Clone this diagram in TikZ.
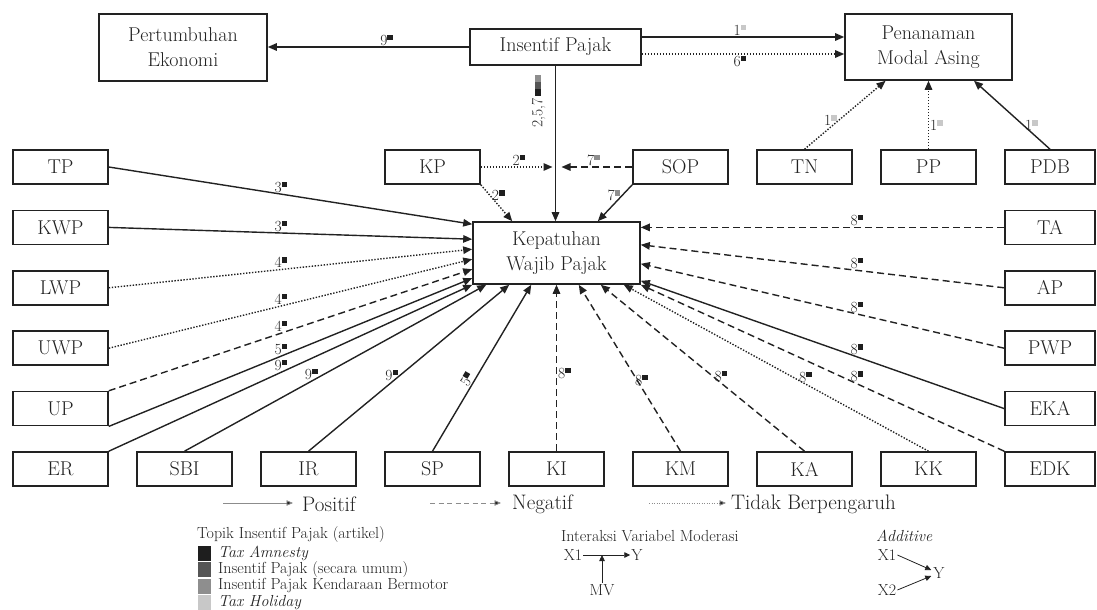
\documentclass[tikz,border=0pt]{standalone}
\usetikzlibrary{arrows.meta,calc}
\definecolor{tA}{HTML}{1E1E1E}
\definecolor{tU}{HTML}{555555}
\definecolor{tK}{HTML}{8E8E8E}
\definecolor{tH}{HTML}{C8C8C8}
\definecolor{ink}{HTML}{222222}
\newcommand{\Lb}[2]{#1\raisebox{5pt}{\textcolor{#2}{\rule{5.5pt}{5.5pt}}}}
\begin{document}
\begin{tikzpicture}[x=1pt,y=-1pt,
  bx/.style={draw=ink, line width=1.6pt, minimum width=95pt, minimum height=34pt, inner sep=0pt, text=ink, font=\fontsize{20}{25}\selectfont, align=center},
  bxr/.style={bx, minimum width=90pt},
  lsol/.style={draw=ink, line width=1.4pt, -{Triangle[length=9pt,width=7.5pt]}},
  ldash/.style={lsol, dash pattern=on 7pt off 4pt},
  ldot/.style={lsol, dash pattern=on 1.4pt off 1.6pt},
  lab/.style={font=\fontsize{15.5}{16}\selectfont, text=ink, inner sep=1pt},
  lleg/.style={draw=black!45, line width=0.9pt, -{Triangle[length=6.5pt,width=5.5pt,fill=ink]}},
  legt/.style={font=\fontsize{21}{24}\selectfont, text=ink, inner sep=0pt, anchor=west},
  smt/.style={font=\fontsize{16}{18}\selectfont, text=ink, inner sep=1pt},
  lthin/.style={draw=ink, line width=0.8pt, -{Triangle[length=6pt,width=5.5pt]}},
  sw/.style={minimum width=13pt, minimum height=15pt, inner sep=0pt}
]
\useasboundingbox (0,0) rectangle (1097,610);

% top nodes
\node[bx, minimum width=168pt, minimum height=67pt] (PE) at (183,47.5) {Pertumbuhan\\Ekonomi};
\node[bx, minimum width=171pt, minimum height=36pt] (IP) at (555.5,47) {Insentif Pajak};
\node[bx, minimum width=167pt, minimum height=66pt] (PMA) at (928.5,47) {Penanaman\\Modal Asing};
\node[bx, minimum width=167pt, minimum height=62pt] (kwp) at (556.5,253) {Kepatuhan\\Wajib Pajak};

% left column
\node[bx] (TP)  at (60.5,167)   {TP};
\node[bx] (KWP) at (60.5,227.4) {KWP};
\node[bx] (LWP) at (60.5,287.8) {LWP};
\node[bx] (UWP) at (60.5,348.2) {UWP};
\node[bx] (UP)  at (60.5,408.6) {UP};
% bottom row
\node[bx] (ER)  at (60.5,469)  {ER};
\node[bx] (SBI) at (184.5,469) {SBI};
\node[bx] (IR)  at (308.5,469) {IR};
\node[bx] (SP)  at (432.5,469) {SP};
\node[bx] (KI)  at (556.5,469) {KI};
\node[bx] (KM)  at (680.5,469) {KM};
\node[bx] (KA)  at (804.5,469) {KA};
\node[bx] (KK)  at (928.5,469) {KK};
\node[bxr] (EDK) at (1050,469) {EDK};
% right column
\node[bxr] (PDB) at (1050,167)   {PDB};
\node[bxr] (TA)  at (1050,227.4) {TA};
\node[bxr] (AP)  at (1050,287.8) {AP};
\node[bxr] (PWP) at (1050,348.2) {PWP};
\node[bxr] (EKA) at (1050,408.6) {EKA};
% top row
\node[bx] (KP)  at (432.5,167) {KP};
\node[bx] (SOP) at (680.5,167) {SOP};
\node[bx] (TN)  at (804.5,167) {TN};
\node[bx] (PP)  at (928.5,167) {PP};

% top connectors
\draw[lsol] (IP.west) -- (IP.west -| PE.east) node[lab,pos=.41,above]{\Lb{9}{tA}};
\draw[lsol] ($(IP.east)+(0,-10)$) -- ($(IP.east -| PMA.west)+(0,-10)$) node[lab,pos=.485,above]{\Lb{1}{tH}};
\draw[ldot] ($(IP.east)+(0,7)$) -- ($(IP.east -| PMA.west)+(0,7)$) node[lab,pos=.485,below]{\Lb{6}{tA}};
\draw[lsol] (IP.south) -- (IP.south |- kwp.north) coordinate[pos=.23] (m257);
\node[lab, rotate=90] (l257) at ($(m257)+(-17,0)$) {2,5,7\,\raisebox{1.5pt}{\textcolor{tA}{\rule{7pt}{6pt}}\textcolor{tU}{\rule{7pt}{6pt}}\textcolor{tK}{\rule{7pt}{6pt}}}};
\draw[ldot] (KP.east) -- ($(KP.east -| kwp.north)+(-4,0)$) node[lab,pos=.53,above]{\Lb{2}{tA}};
\draw[ldash] (SOP.west) -- ($(SOP.west -| kwp.north)+(5,0)$) node[lab,pos=.55,above]{\Lb{7}{tK}};
\draw[ldot] (KP.south east) -- ($(kwp.north west)+(40,0)$) node[lab,pos=.3,right]{\Lb{2}{tA}};
\draw[lsol] (SOP.south west) -- ($(kwp.north east)+(-43,0)$) node[lab,pos=.3,left]{\Lb{7}{tK}};
\draw[ldot] (TN.north) -- ($(PMA.south)+(-43,0)$) node[lab,pos=.42,left]{\Lb{1}{tH}};
\draw[ldot] (PP.north) -- (PP.north |- PMA.south) node[lab,pos=.35,right]{\Lb{1}{tH}};
\draw[lsol] (PDB.north) -- ($(PMA.south)+(45.5,0)$) node[lab,pos=.35,right]{\Lb{1}{tH}};

% left connectors
\draw[lsol] (TP.east) -- ($(kwp.north west)+(0,3)$) node[lab,pos=.474,above]{\Lb{3}{tA}};
\draw[lsol] (KWP.east) -- ($(kwp.north west)+(0,18)$) node[lab,pos=.474,above]{\Lb{3}{tA}};
\draw[ldot] (LWP.east) -- ($(kwp.north west)+(0,28)$) node[lab,pos=.474,above]{\Lb{4}{tA}};
\draw[ldot] (UWP.east) -- ($(kwp.north west)+(0,38)$) node[lab,pos=.474,above]{\Lb{4}{tA}};
\draw[ldash] (UP.north east) -- ($(kwp.north west)+(0,48)$) node[lab,pos=.474,above]{\Lb{4}{tA}};
\draw[lsol] (UP.south east) -- ($(kwp.north west)+(0,57)$) node[lab,pos=.474,above]{\Lb{5}{tA}};
\draw[lsol] (ER.north east) -- (kwp.south west) node[lab,pos=.474,above]{\Lb{9}{tA}};
\draw[lsol] (SBI.north) -- ($(kwp.south west)+(14,0)$) node[lab,pos=.42,above]{\Lb{9}{tA}};
\draw[lsol] (IR.north) -- ($(kwp.south west)+(37,0)$) node[lab,pos=.415,above]{\Lb{9}{tA}};
\draw[lsol] (SP.north) -- ($(kwp.south west)+(59,0)$) node[lab,pos=.41,above,sloped]{\Lb{5}{tA}};

% bottom / right connectors
\draw[ldash] (KI.north -| kwp.south) -- (kwp.south) node[lab,pos=.47,right]{\Lb{8}{tA}};
\draw[ldash] (KM.north) -- ($(kwp.south east)+(-62,0)$) node[lab,pos=.385,above]{\Lb{8}{tA}};
\draw[ldash] (KA.north) -- ($(kwp.south east)+(-40,0)$) node[lab,pos=.41,above]{\Lb{8}{tA}};
\draw[ldot] (KK.north) -- ($(kwp.south east)+(-17,0)$) node[lab,pos=.404,above]{\Lb{8}{tA}};
\draw[ldash] (EDK.north west) -- (kwp.south east) node[lab,pos=.405,above]{\Lb{8}{tA}};
\draw[lsol] (EKA.west) -- ($(kwp.south east)+(0,-4)$) node[lab,pos=.405,above]{\Lb{8}{tA}};
\draw[ldash] (PWP.west) -- ($(kwp.south east)+(0,-21)$) node[lab,pos=.405,above]{\Lb{8}{tA}};
\draw[ldash] (AP.west) -- ($(kwp.south east)+(0,-40)$) node[lab,pos=.405,above]{\Lb{8}{tA}};
\draw[ldash] (TA.west) -- (TA.west -| kwp.east) node[lab,pos=.405,above]{\Lb{8}{tA}};

% legend: line types
\node[legt] (tPos) at (302,504) {Positif};
\coordinate (gP) at (223,503);
\draw[lleg] (gP) -- ($(tPos.west)+(-9,-1)$);
\node[legt] (tNeg) at (512,504) {Negatif};
\coordinate (gN) at (430,503);
\draw[lleg, dash pattern=on 5pt off 3.5pt] (gN) -- ($(tNeg.west)+(-11,-1)$);
\node[legt] (tNul) at (731,504) {Tidak Berpengaruh};
\coordinate (gT) at (649,503);
\draw[lleg, dash pattern=on 1.2pt off 1.3pt] (gT) -- ($(tNul.west)+(-5,-1)$);

% legend: topics
\node[smt, anchor=west, inner sep=0pt] (topT) at (197,535) {Topik Insentif Pajak (artikel)};
\node[sw, fill=tA] (s1) at (204.5,553) {};
\node[sw, fill=tU] (s2) at (204.5,569.5) {};
\node[sw, fill=tK] (s3) at (204.5,586) {};
\node[sw, fill=tH] (s4) at (204.5,602.5) {};
\node[smt, anchor=west, inner sep=0pt] (r1) at (218,553) {\itshape Tax Amnesty};
\node[smt, anchor=west, inner sep=0pt] (r2) at (218,569.5) {Insentif Pajak (secara umum)};
\node[smt, anchor=west, inner sep=0pt] (r3) at (218,586) {Insentif Pajak Kendaraan Bermotor};
\node[smt, anchor=west, inner sep=0pt] (r4) at (218,602.5) {\itshape Tax Holiday};

% legend: moderation
\node[smt, anchor=west, inner sep=0pt] (intT) at (561,536) {Interaksi Variabel Moderasi};
\node[smt] (iX1) at (573,555) {X1};
\node[smt] (iY) at (637,555) {Y};
\draw[lthin] (iX1) -- (iY);
\node[smt] (iMV) at (602,590) {MV};
\draw[lthin] (iMV.north) -- (iMV.north |- iX1.east);

% legend: additive
\node[smt, anchor=west, inner sep=0pt] (addT) at (876,536) {\itshape Additive};
\node[smt] (aX1) at (887,555) {X1};
\node[smt] (aX2) at (887,590) {X2};
\node[smt] (aY) at (939,573) {Y};
\draw[lthin] (aX1.east) -- ($(aY.west)+(-1,-3)$);
\draw[lthin] (aX2.east) -- ($(aY.west)+(-1,3)$);
\end{tikzpicture}
\end{document}
